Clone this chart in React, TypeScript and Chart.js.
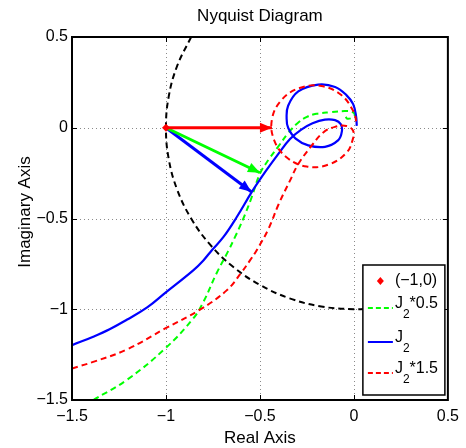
import React, { useEffect, useRef } from 'react';
import { Chart, registerables } from 'chart.js';

Chart.register(...registerables);

const X_MIN = -1.5;
const X_MAX = 0.5;
const Y_MIN = -1.5;
const Y_MAX = 0.5;
const X_TICKS = [-1.5, -1, -0.5, 0, 0.5];
const Y_TICKS = [-1.5, -1, -0.5, 0, 0.5];

const TITLE = 'Nyquist Diagram';
const X_LABEL = 'Real Axis';
const Y_LABEL = 'Imaginary Axis';

// J2 (blue, solid)
const J2_X = [-1.5, -1.387, -1.3, -1.209, -1.1, -1.004, -0.855, -0.801, -0.757, -0.695, -0.624, -0.544, -0.473, -0.403, -0.34, -0.28, -0.22, -0.154, -0.1, -0.07, -0.064, -0.083, -0.154, -0.243, -0.31, -0.35, -0.358, -0.35, -0.296, -0.19, -0.1, -0.04, -0.004, 0.012, 0.015];
const J2_Y = [-1.198, -1.151, -1.11, -1.058, -0.99, -0.91, -0.786, -0.731, -0.676, -0.603, -0.493, -0.355, -0.245, -0.145, -0.062, -0.01, 0.025, 0.045, 0.042, 0.02, -0.02, -0.068, -0.105, -0.097, -0.06, 0.0, 0.05, 0.121, 0.2, 0.238, 0.225, 0.18, 0.13, 0.06, 0.01];

// J2*0.5 (green, dashed)
const J2H_X = [-1.387, -1.209, -1.004, -0.855, -0.801, -0.73, -0.669, -0.633, -0.589, -0.544, -0.5, -0.45, -0.4, -0.35, -0.3, -0.25, -0.2, -0.12, -0.05, -0.01, 0.005, -0.01, -0.035, -0.045];
const J2H_Y = [-1.5, -1.39, -1.216, -1.051, -0.96, -0.8, -0.68, -0.603, -0.502, -0.383, -0.253, -0.17, -0.1, -0.03, 0.025, 0.06, 0.077, 0.086, 0.092, 0.088, 0.07, 0.055, 0.05, 0.062];

// J2*1.5 (red, dashed)
const J2D_X = [-1.5, -1.387, -1.209, -1.004, -0.819, -0.677, -0.597, -0.553, -0.518, -0.456, -0.4, -0.34, -0.296, -0.225, -0.163, -0.101, -0.04, -0.005, -0.005, -0.039, -0.135, -0.251, -0.357, -0.424, -0.436, -0.385, -0.289, -0.173, -0.067, 0.0, 0.013];
const J2D_Y = [-1.326, -1.29, -1.222, -1.106, -1.002, -0.896, -0.795, -0.731, -0.676, -0.56, -0.42, -0.291, -0.2, -0.099, -0.026, 0.005, 0.01, -0.015, -0.06, -0.137, -0.203, -0.214, -0.164, -0.069, 0.047, 0.153, 0.219, 0.23, 0.18, 0.085, 0.028];

// unit circle (black, dashed)
const CIRCLE_X = [-0.866, -0.94, -0.985, -1, -0.985, -0.94, -0.866, -0.766, -0.643, -0.5, -0.342, -0.174, 0, 0.087];
const CIRCLE_Y = [0.5, 0.342, 0.174, 0, -0.174, -0.342, -0.5, -0.643, -0.766, -0.866, -0.94, -0.985, -1, -0.996];

// critical point and arrows from it
const CRIT_X = [-1];
const CRIT_Y = [0];
const ARROW_END_X = [-0.436, -0.5, -0.546];
const ARROW_END_Y = [0, -0.248, -0.353];
const ARROW_COLORS = ['#ff0000', '#00ff00', '#0000ff'];

const LEGEND_ITEMS = [
  { kind: 'marker', color: '#ff0000', main: '(\u22121,0)', sub: '', tail: '' },
  { kind: 'line', color: '#00ff00', dash: [5, 3], main: 'J', sub: '2', tail: '*0.5' },
  { kind: 'line', color: '#0000ff', dash: [], main: 'J', sub: '2', tail: '' },
  { kind: 'line', color: '#ff0000', dash: [5, 3], main: 'J', sub: '2', tail: '*1.5' },
];

const FONT = '"Liberation Sans", Arial, Helvetica, sans-serif';

const pts = (xs: number[], ys: number[]) => xs.map((x, i) => ({ x, y: ys[i] }));
const fmt = (v: number) => String(v).replace('-', '\u2212');

const decor = {
  id: 'matlabDecor',
  beforeDatasetsDraw(chart: any) {
    const { ctx, chartArea: a, scales } = chart;
    const sx = scales.x;
    const sy = scales.y;
    ctx.save();
    ctx.strokeStyle = '#8a8a8a';
    ctx.lineWidth = 1;
    ctx.setLineDash([1, 3]);
    X_TICKS.forEach((v) => {
      if (v <= X_MIN || v >= X_MAX) return;
      const px = Math.round(sx.getPixelForValue(v)) + 0.5;
      ctx.beginPath();
      ctx.moveTo(px, a.top);
      ctx.lineTo(px, a.bottom);
      ctx.stroke();
    });
    Y_TICKS.forEach((v) => {
      if (v <= Y_MIN || v >= Y_MAX) return;
      const py = Math.round(sy.getPixelForValue(v)) + 0.5;
      ctx.beginPath();
      ctx.moveTo(a.left, py);
      ctx.lineTo(a.right, py);
      ctx.stroke();
    });
    ctx.restore();
  },
  afterDatasetsDraw(chart: any) {
    const { ctx, chartArea: a, scales } = chart;
    const sx = scales.x;
    const sy = scales.y;
    ctx.save();
    // arrowheads
    ARROW_END_X.forEach((ex, i) => {
      const x0 = sx.getPixelForValue(CRIT_X[0]);
      const y0 = sy.getPixelForValue(CRIT_Y[0]);
      const x1 = sx.getPixelForValue(ex);
      const y1 = sy.getPixelForValue(ARROW_END_Y[i]);
      const ang = Math.atan2(y1 - y0, x1 - x0);
      const L = 12;
      const W = 5;
      const bx = x1 - L * Math.cos(ang);
      const by = y1 - L * Math.sin(ang);
      ctx.fillStyle = ARROW_COLORS[i];
      ctx.beginPath();
      ctx.moveTo(x1, y1);
      ctx.lineTo(bx + W * Math.sin(ang), by - W * Math.cos(ang));
      ctx.lineTo(bx - W * Math.sin(ang), by + W * Math.cos(ang));
      ctx.closePath();
      ctx.fill();
    });
    // inward ticks
    ctx.strokeStyle = '#000';
    ctx.lineWidth = 1;
    ctx.setLineDash([]);
    const tl = 5;
    X_TICKS.forEach((v) => {
      if (v <= X_MIN || v >= X_MAX) return;
      const px = Math.round(sx.getPixelForValue(v)) + 0.5;
      ctx.beginPath();
      ctx.moveTo(px, a.bottom);
      ctx.lineTo(px, a.bottom - tl);
      ctx.moveTo(px, a.top);
      ctx.lineTo(px, a.top + tl);
      ctx.stroke();
    });
    Y_TICKS.forEach((v) => {
      if (v <= Y_MIN || v >= Y_MAX) return;
      const py = Math.round(sy.getPixelForValue(v)) + 0.5;
      ctx.beginPath();
      ctx.moveTo(a.left, py);
      ctx.lineTo(a.left + tl, py);
      ctx.moveTo(a.right, py);
      ctx.lineTo(a.right - tl, py);
      ctx.stroke();
    });
    // legend
    const bw = 82;
    const bh = 130;
    const bx = a.right - 3 - bw;
    const by = a.bottom - 5 - bh;
    ctx.fillStyle = '#fff';
    ctx.fillRect(bx, by, bw, bh);
    ctx.strokeStyle = '#000';
    ctx.lineWidth = 1.5;
    ctx.strokeRect(bx, by, bw, bh);
    const rows = [16, 43, 77, 108];
    LEGEND_ITEMS.forEach((it, i) => {
      const cy = by + rows[i];
      const sx0 = bx + 5;
      const sx1 = bx + 30;
      if (it.kind === 'marker') {
        ctx.fillStyle = it.color;
        ctx.beginPath();
        const mx = (sx0 + sx1) / 2;
        ctx.moveTo(mx, cy - 4);
        ctx.lineTo(mx + 3.5, cy);
        ctx.lineTo(mx, cy + 4);
        ctx.lineTo(mx - 3.5, cy);
        ctx.closePath();
        ctx.fill();
      } else {
        ctx.strokeStyle = it.color;
        ctx.lineWidth = 2;
        ctx.setLineDash(it.dash as number[]);
        ctx.beginPath();
        ctx.moveTo(sx0, cy);
        ctx.lineTo(sx1, cy);
        ctx.stroke();
        ctx.setLineDash([]);
      }
      ctx.fillStyle = '#000';
      ctx.textBaseline = 'middle';
      ctx.textAlign = 'left';
      let tx = bx + 32;
      const ty = it.kind === 'marker' ? cy : cy - 4;
      ctx.font = `16px ${FONT}`;
      ctx.fillText(it.main, tx, ty);
      tx += ctx.measureText(it.main).width;
      if (it.sub) {
        ctx.font = `12px ${FONT}`;
        ctx.fillText(it.sub, tx, ty + 11);
        tx += ctx.measureText(it.sub).width;
      }
      if (it.tail) {
        ctx.font = `16px ${FONT}`;
        ctx.fillText(it.tail, tx, ty);
      }
    });
    // frame
    ctx.strokeStyle = '#000';
    ctx.lineWidth = 2;
    ctx.strokeRect(a.left, a.top, a.right - a.left, a.bottom - a.top);
    ctx.restore();
  },
  afterDraw(chart: any) {
    const { ctx, chartArea: a } = chart;
    ctx.save();
    ctx.fillStyle = '#000';
    ctx.textAlign = 'center';
    ctx.textBaseline = 'alphabetic';
    const cx = (a.left + a.right) / 2;
    ctx.font = `17px ${FONT}`;
    ctx.fillText(TITLE, cx, a.top - 16);
    ctx.fillText(X_LABEL, cx, a.bottom + 43);
    ctx.translate(25, 212);
    ctx.rotate(-Math.PI / 2);
    ctx.textBaseline = 'middle';
    ctx.fillText(Y_LABEL, 0, 0);
    ctx.restore();
  },
};

export default function App() {
  const ref = useRef<HTMLCanvasElement>(null);
  useEffect(() => {
    if (!ref.current) return;
    const line = (data: any, color: string, width: number, dash: number[]) => ({
      data,
      showLine: true,
      borderColor: color,
      backgroundColor: color,
      borderWidth: width,
      borderDash: dash,
      pointRadius: 0,
      pointHoverRadius: 0,
      tension: 0.4,
      fill: false,
      clip: 0,
    });
    const datasets: any[] = [
      {
        data: pts(CRIT_X, CRIT_Y),
        showLine: false,
        pointStyle: 'rectRot',
        pointRadius: 4,
        backgroundColor: '#ff0000',
        borderColor: '#ff0000',
        borderWidth: 0,
      },
      ...ARROW_END_X.map((ex, i) =>
        line([{ x: CRIT_X[0], y: CRIT_Y[0] }, { x: ex, y: ARROW_END_Y[i] }], ARROW_COLORS[i], 3, [])
      ),
      line(pts(J2D_X, J2D_Y), '#ff0000', 2, [6, 4]),
      line(pts(J2_X, J2_Y), '#0000ff', 2.2, []),
      line(pts(J2H_X, J2H_Y), '#00ff00', 2, [6, 4]),
      line(pts(CIRCLE_X, CIRCLE_Y), '#000000', 2, [6, 4]),
    ];
    const tickFont = { family: FONT, size: 16 };
    const chart = new Chart(ref.current, {
      type: 'scatter',
      data: { datasets },
      plugins: [decor],
      options: {
        responsive: false,
        animation: false,
        events: [],
        layout: { padding: { top: 37, right: 18, left: 0, bottom: 0 } },
        plugins: { legend: { display: false }, title: { display: false }, tooltip: { enabled: false } },
        scales: {
          x: {
            type: 'linear',
            min: X_MIN,
            max: X_MAX,
            grid: { display: false, drawTicks: false, tickLength: 0 },
            border: { display: false },
            ticks: { font: tickFont, color: '#000', padding: 7, maxRotation: 0, autoSkip: false, callback: (v: any) => fmt(Number(v)) },
            afterBuildTicks: (ax: any) => { ax.ticks = X_TICKS.map((value) => ({ value })); },
            afterFit: (ax: any) => { ax.height = 48; },
          },
          y: {
            type: 'linear',
            min: Y_MIN,
            max: Y_MAX,
            grid: { display: false, drawTicks: false, tickLength: 0 },
            border: { display: false },
            ticks: { font: tickFont, color: '#000', padding: 4, autoSkip: false, callback: (v: any) => fmt(Number(v)) },
            afterBuildTicks: (ax: any) => { ax.ticks = Y_TICKS.map((value) => ({ value })); },
            afterFit: (ax: any) => { ax.width = 72; },
          },
        },
      } as any,
    });
    return () => chart.destroy();
  }, []);
  return (
    <div style={{ position: 'fixed', left: 0, top: 0, width: 466, height: 448, background: '#fff' }}>
      <canvas ref={ref} width={466} height={448} style={{ display: 'block' }} />
    </div>
  );
}
